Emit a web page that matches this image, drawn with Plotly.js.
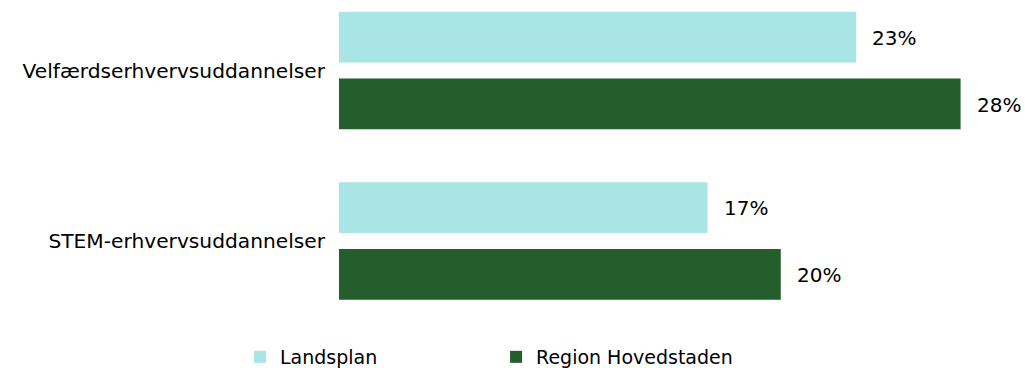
<!DOCTYPE html>
<html>
<head>
<meta charset="utf-8">
<script src="https://cdn.plot.ly/plotly-3.0.1.min.js"></script>
<style>html,body{margin:0;padding:0;background:#fff;}#chart{width:1025px;height:368px;}</style>
</head>
<body>
<div id="chart"></div>
<script>
const categories = ["Velfærdserhvervsuddannelser", "STEM-erhvervsuddannelser"];
const seriesNames = ["Landsplan", "Region Hovedstaden"];
const landsplan = [0.233, 0.166];
const regionHovedstaden = [0.280, 0.199];
const seriesColors = ["#A9E5E5", "#245E2D"];

const FONT = "DejaVu Sans, sans-serif";
const seriesValues = [landsplan, regionHovedstaden];

const traces = seriesValues.map((vals, i) => ({
  type: "bar",
  orientation: "h",
  name: seriesNames[i],
  x: vals,
  y: categories,
  marker: {color: seriesColors[i], line: {width: 0}},
  hoverinfo: "skip"
}));

const yShifts = [33, -34];
const annotations = [];
seriesValues.forEach((vals, i) => {
  vals.forEach((v, j) => {
    annotations.push({
      x: v, y: categories[j], xref: "x", yref: "y",
      text: Math.round(v * 100) + "%",
      showarrow: false, xanchor: "left", yanchor: "middle",
      xshift: 14, yshift: yShifts[i],
      font: {family: FONT, size: 20, color: "#000"}
    });
  });
});

const layout = {
  width: 1025, height: 368,
  margin: {l: 339, r: 20, t: 0, b: 48, pad: 0, autoexpand: false},
  paper_bgcolor: "#fff", plot_bgcolor: "#fff",
  barmode: "group",
  bargap: 0.216,
  bargroupgap: 0.24,
  font: {family: FONT, size: 20, color: "#000"},
  xaxis: {range: [0, 0.30], visible: false, showgrid: false, zeroline: false, fixedrange: true},
  yaxis: {
    type: "category",
    range: [1.4633, -0.4135],
    showgrid: false, zeroline: false, showline: false,
    ticks: "", ticklabelstandoff: 13,
    tickfont: {family: FONT, size: 20.2, color: "#000"},
    fixedrange: true
  },
  showlegend: true,
  legend: {
    orientation: "h",
    x: -0.1486, xanchor: "left",
    y: -0.1156, yanchor: "middle",
    entrywidth: 211, entrywidthmode: "pixels",
    font: {family: FONT, size: 19, color: "#000"},
    bgcolor: "rgba(0,0,0,0)"
  },
  annotations: annotations
};

Plotly.newPlot("chart", traces, layout, {displayModeBar: false, staticPlot: true});
</script>
</body>
</html>
